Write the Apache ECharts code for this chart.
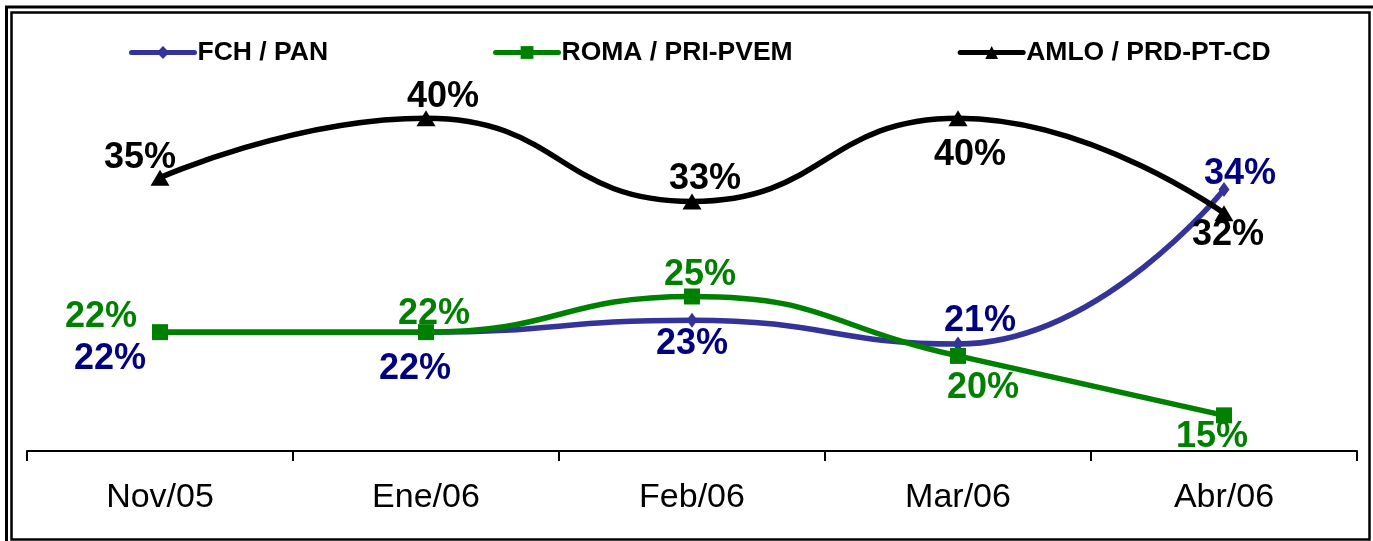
<!DOCTYPE html>
<html>
<head>
<meta charset="utf-8">
<script src="https://cdn.jsdelivr.net/npm/echarts@6/dist/echarts.min.js"></script>
<style>
  html, body { margin: 0; padding: 0; background: #fff; }
  #chart { width: 1373px; height: 541px; }
</style>
</head>
<body>
<div id="chart"></div>
<script>
// datos
const months = ['Nov/05', 'Ene/06', 'Feb/06', 'Mar/06', 'Abr/06']
const fch = [22, 22, 23, 21, 34]
const roma = [22, 22, 25, 20, 15]
const amlo = [35, 40, 33, 40, 32]

// desplazamiento de etiquetas (px respecto al punto)
const fchOffsets = [[-50, 27], [-11, 37], [0, 24], [22, -23], [16, -15]]
const romaOffsets = [[-59, -15], [8, -18], [8, -21], [25, 32], [-12, 22]]
const amloOffsets = [[-20, -20], [17, -21], [13, -22], [12, 37], [4, 22]]

const FONT = 'Liberation Sans, Arial, sans-serif'

const withLabels = (values, offsets) =>
  values.map((v, i) => ({ value: v, label: { offset: offsets[i] } }))

const makeSeries = (name, values, offsets, color, labelColor, symbol, symbolSize) => ({
  name,
  type: 'line',
  smooth: true,
  symbol,
  symbolSize,
  showAllSymbol: true,
  lineStyle: { width: 5.5, color },
  itemStyle: { color },
  label: {
    show: true,
    position: 'inside',
    formatter: '{c}%',
    color: labelColor,
    fontFamily: FONT,
    fontWeight: 'bold',
    fontSize: 36
  },
  emphasis: { disabled: true },
  data: withLabels(values, offsets)
})

const chart = echarts.init(document.getElementById('chart'))
chart.setOption({
  animation: false,
  backgroundColor: '#fff',
  grid: { left: 27, right: 16, top: 35, bottom: 90 },
  legend: {
    left: 124,
    top: 34,
    itemWidth: 63,
    itemHeight: 16,
    itemGap: 165,
    lineStyle: { width: 5, cap: 'round' },
    textStyle: { fontFamily: FONT, fontWeight: 'bold', fontSize: 26.5, color: '#000', padding: [0, 0, 0, -2] },
    data: ['FCH / PAN', 'ROMA / PRI-PVEM', 'AMLO / PRD-PT-CD']
  },
  xAxis: {
    type: 'category',
    data: months,
    boundaryGap: true,
    axisLine: { lineStyle: { color: '#000', width: 2 } },
    axisTick: { show: true, length: 10, lineStyle: { color: '#000', width: 2 } },
    axisLabel: { color: '#000', fontFamily: FONT, fontSize: 34, margin: 30 }
  },
  yAxis: {
    type: 'value',
    min: 12,
    max: 47,
    show: false,
    splitLine: { show: false }
  },
  series: [
    makeSeries('FCH / PAN', fch, fchOffsets, '#333399', '#000080', 'diamond', [11, 15]),
    makeSeries('ROMA / PRI-PVEM', roma, romaOffsets, '#008000', '#008000', 'rect', 16),
    makeSeries('AMLO / PRD-PT-CD', amlo, amloOffsets, '#000000', '#000000', 'triangle', [19, 16])
  ],
  graphic: [
    { type: 'rect', shape: { x: 6.5, y: 7, width: 1380, height: 545 }, style: { fill: 'none', stroke: '#000', lineWidth: 3 }, silent: true },
    { type: 'rect', shape: { x: 11.5, y: 12.5, width: 1358, height: 527 }, style: { fill: 'none', stroke: '#000', lineWidth: 2.5 }, silent: true }
  ]
})
</script>
</body>
</html>
